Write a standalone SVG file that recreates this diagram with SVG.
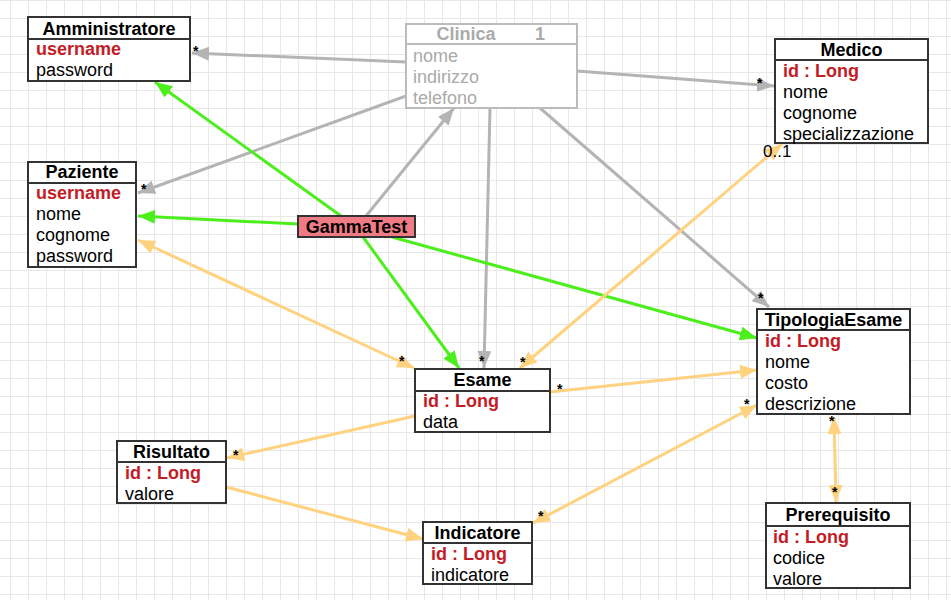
<svg xmlns="http://www.w3.org/2000/svg" width="951" height="600" viewBox="0 0 951 600">
<style>
.box{fill:#fff;stroke:#333;stroke-width:2}
.gbox{fill:#fff;stroke:#bbb;stroke-width:2}
.t{font-family:"Liberation Sans",Arial,sans-serif;font-size:18px;fill:#000}
.title{font-weight:bold;text-anchor:middle}
.key{font-weight:bold;fill:#c41c26}
.gray{fill:#aaa}
.lbl{font-family:"Liberation Sans",Arial,sans-serif;font-size:14px;font-weight:bold;fill:#000}
.mult{font-family:"Liberation Sans",Arial,sans-serif;font-size:17px;fill:#000}
.cg{stroke:#b4b4b4;stroke-width:3;fill:none}
.cgr{stroke:#4cee1c;stroke-width:3;fill:none}
.co{stroke:#ffd27f;stroke-width:3;fill:none}
</style>
<defs>
<pattern id="grid" width="18" height="18" patternUnits="userSpaceOnUse" x="10" y="0">
<path d="M0.5 0V18M0 0.5H18" stroke="#e8e8e8" stroke-width="1" fill="none"/>
</pattern>
<marker id="ag" viewBox="0 0 17 14" refX="17" refY="7" markerWidth="17" markerHeight="14" markerUnits="userSpaceOnUse" orient="auto-start-reverse"><path d="M0 0L17 7L0 14z" fill="#b4b4b4"/></marker>
<marker id="agr" viewBox="0 0 17 14" refX="17" refY="7" markerWidth="17" markerHeight="14" markerUnits="userSpaceOnUse" orient="auto-start-reverse"><path d="M0 0L17 7L0 14z" fill="#4cee1c"/></marker>
<marker id="ao" viewBox="0 0 17 14" refX="17" refY="7" markerWidth="17" markerHeight="14" markerUnits="userSpaceOnUse" orient="auto-start-reverse"><path d="M0 0L17 7L0 14z" fill="#ffd27f"/></marker>
</defs>
<rect width="951" height="600" fill="#fff"/>
<rect width="951" height="600" fill="url(#grid)"/>

<g id="connectors">
<line class="cg" x1="406" y1="62" x2="192" y2="53" marker-end="url(#ag)"/>
<line class="cg" x1="577" y1="71" x2="774" y2="86" marker-end="url(#ag)"/>
<line class="cg" x1="406" y1="96" x2="138" y2="193" marker-end="url(#ag)"/>
<line class="cg" x1="366" y1="216" x2="454" y2="108" marker-end="url(#ag)"/>
<line class="cg" x1="490" y1="108" x2="484" y2="368" marker-end="url(#ag)"/>
<line class="cg" x1="540" y1="108" x2="769" y2="307" marker-end="url(#ag)"/>

<line class="cgr" x1="341" y1="216" x2="155" y2="82" marker-end="url(#agr)"/>
<line class="cgr" x1="298" y1="224" x2="138" y2="216" marker-end="url(#agr)"/>
<line class="cgr" x1="363" y1="237" x2="459" y2="368" marker-end="url(#agr)"/>
<line class="cgr" x1="392" y1="237" x2="757" y2="338" marker-end="url(#agr)"/>

<line class="co" x1="138" y1="240" x2="414" y2="368" marker-start="url(#ao)" marker-end="url(#ao)"/>
<line class="co" x1="782" y1="144" x2="520" y2="368" marker-start="url(#ao)" marker-end="url(#ao)"/>
<line class="co" x1="550" y1="392" x2="757" y2="370" marker-end="url(#ao)"/>
<line class="co" x1="415" y1="416" x2="227" y2="458" marker-end="url(#ao)"/>
<line class="co" x1="226" y1="487" x2="423" y2="539" marker-end="url(#ao)"/>
<line class="co" x1="757" y1="405" x2="533" y2="523" marker-start="url(#ao)" marker-end="url(#ao)"/>
<line class="co" x1="834" y1="417" x2="836" y2="502" marker-start="url(#ao)" marker-end="url(#ao)"/>

<text class="lbl" x="193" y="56">*</text>
<text class="lbl" x="757" y="88">*</text>
<text class="lbl" x="141" y="194">*</text>
<text class="lbl" x="479" y="366">*</text>
<text class="lbl" x="758" y="303">*</text>
<text class="lbl" x="399" y="366">*</text>
<text class="lbl" x="520" y="367">*</text>
<text class="mult" x="763" y="157">0..1</text>
<text class="lbl" x="557" y="394">*</text>
<text class="lbl" x="233" y="460">*</text>
<text class="lbl" x="744" y="409">*</text>
<text class="lbl" x="538" y="521">*</text>
<text class="lbl" x="829" y="426">*</text>
<text class="lbl" x="832" y="497">*</text>
</g>

<g id="Amministratore">
<rect class="box" x="28" y="17" width="162" height="64"/>
<line class="box" x1="28" y1="39" x2="190" y2="39"/>
<text class="t title" x="109" y="35">Amministratore</text>
<text class="t key" x="36" y="55">username</text>
<text class="t" x="36" y="76">password</text>
</g>

<g id="Clinica">
<rect class="gbox" x="406" y="24" width="171" height="84"/>
<line class="gbox" x1="406" y1="44" x2="577" y2="44"/>
<text class="t title gray" x="466" y="40">Clinica</text>
<text class="t title gray" x="540" y="40">1</text>
<text class="t gray" x="413" y="62">nome</text>
<text class="t gray" x="413" y="83">indirizzo</text>
<text class="t gray" x="413" y="104">telefono</text>
</g>

<g id="Medico">
<rect class="box" x="775" y="39" width="153" height="104"/>
<line class="box" x1="775" y1="60" x2="928" y2="60"/>
<text class="t title" x="851.5" y="56">Medico</text>
<text class="t key" x="783" y="77">id : Long</text>
<text class="t" x="783" y="98">nome</text>
<text class="t" x="783" y="119">cognome</text>
<text class="t" x="783" y="140">specializzazione</text>
</g>

<g id="Paziente">
<rect class="box" x="28" y="162" width="108" height="105"/>
<line class="box" x1="28" y1="183" x2="136" y2="183"/>
<text class="t title" x="82" y="178">Paziente</text>
<text class="t key" x="36" y="199">username</text>
<text class="t" x="36" y="220">nome</text>
<text class="t" x="36" y="241">cognome</text>
<text class="t" x="36" y="262">password</text>
</g>

<g id="GammaTest">
<rect x="298" y="216" width="117" height="21" fill="#f07b85" stroke="#333" stroke-width="2"/>
<text class="t title" x="356.5" y="233">GammaTest</text>
</g>

<g id="Esame">
<rect class="box" x="415" y="369" width="135" height="63"/>
<line class="box" x1="415" y1="391" x2="550" y2="391"/>
<text class="t title" x="482.5" y="386">Esame</text>
<text class="t key" x="423" y="407">id : Long</text>
<text class="t" x="423" y="428">data</text>
</g>

<g id="TipologiaEsame">
<rect class="box" x="757" y="309" width="153" height="105"/>
<line class="box" x1="757" y1="330" x2="910" y2="330"/>
<text class="t title" x="833.5" y="326">TipologiaEsame</text>
<text class="t key" x="765" y="347">id : Long</text>
<text class="t" x="765" y="368">nome</text>
<text class="t" x="765" y="389">costo</text>
<text class="t" x="765" y="410">descrizione</text>
</g>

<g id="Risultato">
<rect class="box" x="117" y="441" width="109" height="62"/>
<line class="box" x1="117" y1="462" x2="226" y2="462"/>
<text class="t title" x="171.5" y="458">Risultato</text>
<text class="t key" x="125" y="479">id : Long</text>
<text class="t" x="125" y="500">valore</text>
</g>

<g id="Indicatore">
<rect class="box" x="423" y="522" width="109" height="62"/>
<line class="box" x1="423" y1="543" x2="532" y2="543"/>
<text class="t title" x="477.5" y="539">Indicatore</text>
<text class="t key" x="431" y="560">id : Long</text>
<text class="t" x="431" y="581">indicatore</text>
</g>

<g id="Prerequisito">
<rect class="box" x="766" y="503" width="144" height="85"/>
<line class="box" x1="766" y1="526" x2="910" y2="526"/>
<text class="t title" x="838" y="521">Prerequisito</text>
<text class="t key" x="773" y="543">id : Long</text>
<text class="t" x="773" y="564">codice</text>
<text class="t" x="773" y="585">valore</text>
</g>
</svg>
